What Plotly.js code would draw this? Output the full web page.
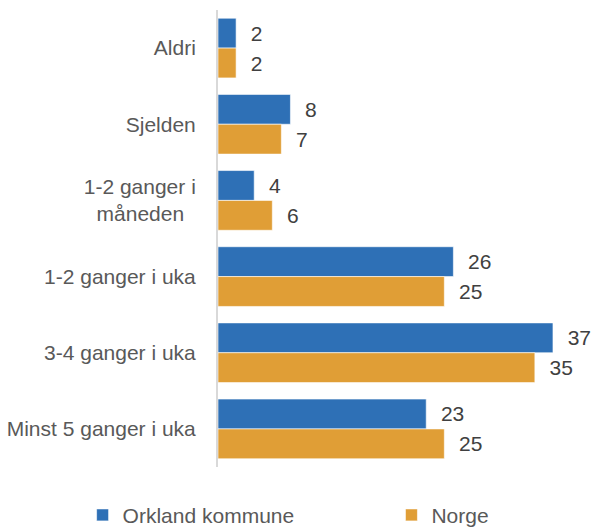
<!DOCTYPE html>
<html>
<head>
<meta charset="utf-8">
<script src="https://cdn.plot.ly/plotly-3.0.1.min.js"></script>
<style>html,body{margin:0;padding:0;background:#fff;}#chart{width:591px;height:529px;}</style>
</head>
<body>
<div id="chart"></div>
<script>
var categories = ["Aldri", "Sjelden", "1-2 ganger i<br>måneden\u00a0\u00a0", "1-2 ganger i uka", "3-4 ganger i uka", "Minst 5 ganger i uka"];
var orkland = [2, 8, 4, 26, 37, 23];
var norge = [2, 7, 6, 25, 35, 25];
var seriesNames = ["Orkland kommune", "Norge"];

function mk(vals, name, color, leg) {
  return {
    type: "bar", orientation: "h", y: categories, x: vals, name: name, legend: leg,
    marker: {color: color, line: {color: "rgba(255,255,255,0.6)", width: 1}},
    text: vals.map(function(v){ return "\u00a0\u00a0" + v; }),
    textposition: "outside", cliponaxis: false, constraintext: "none",
    textfont: {family: "Liberation Sans, Arial, sans-serif", size: 21, color: "#404040"},
    hoverinfo: "x+name"
  };
}
var data = [mk(orkland, seriesNames[0], "#2E70B6", "legend"), mk(norge, seriesNames[1], "#E09E36", "legend2")];
var legBase = {orientation: "h", xanchor: "left", yref: "container", y: 0.026, yanchor: "middle", font: {size: 21, color: "#595959"}};
var layout = {
  width: 591, height: 529,
  margin: {l: 218, r: 0, t: 10, b: 62, autoexpand: false},
  paper_bgcolor: "#fff", plot_bgcolor: "#fff",
  barmode: "group", bargap: 0.216, bargroupgap: 0,
  font: {family: "Liberation Sans, Arial, sans-serif", size: 21, color: "#595959"},
  xaxis: {range: [0, 41.2], showgrid: false, zeroline: false, showticklabels: false, showline: false, fixedrange: true},
  yaxis: {autorange: "reversed", showline: true, linecolor: "#d9d9d9", linewidth: 2, ticks: "", ticklabelstandoff: 16,
          tickfont: {size: 21, color: "#595959"}, showgrid: false, zeroline: false},
  showlegend: true,
  legend: Object.assign({x: -0.363}, legBase),
  legend2: Object.assign({x: 0.465}, legBase)
};
Plotly.newPlot("chart", data, layout, {displayModeBar: false, staticPlot: true});
</script>
</body>
</html>
